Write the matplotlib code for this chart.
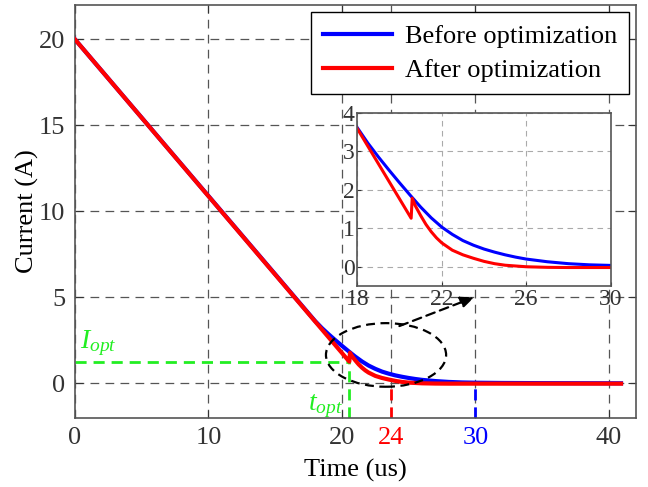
import matplotlib
matplotlib.use('Agg')
import matplotlib.pyplot as plt
from matplotlib.patches import Ellipse

plt.rcParams['font.family'] = ['Liberation Serif', 'DejaVu Serif']
plt.rcParams['mathtext.fontset'] = 'custom'
plt.rcParams['mathtext.rm'] = 'Liberation Serif'
plt.rcParams['mathtext.it'] = 'Liberation Serif:italic'

# Current before optimization
t_before = [0, 18, 18.5, 19, 19.5, 20, 20.5, 21, 21.5, 22, 22.5, 23, 23.5, 24,
            24.5, 25, 25.5, 26, 27, 28, 29, 30, 32, 35, 40.9]
i_before = [20, 3.61, 3.21, 2.85, 2.51, 2.18, 1.86, 1.55, 1.27, 1.03, 0.84, 0.68, 0.56, 0.46,
            0.38, 0.31, 0.25, 0.20, 0.13, 0.08, 0.05, 0.035, 0.02, 0.01, 0.0]

# Current after optimization
t_after = [0, 20.55, 20.6, 20.75, 21, 21.25, 21.5, 21.75, 22, 22.5, 23, 23.5, 24,
           24.5, 25, 25.5, 26, 27, 28, 30, 40.9]
i_after = [20, 1.26, 1.78, 1.58, 1.33, 1.10, 0.91, 0.75, 0.62, 0.43, 0.31, 0.22, 0.14,
           0.08, 0.04, 0.02, 0.0, -0.015, -0.02, -0.02, -0.02]

t_opt = 20.55
i_opt = 1.26
t_after_end = 23.65
t_before_end = 30

main_xticks = [0, 10, 20, 30, 40]
main_yticks = [0, 5, 10, 15, 20]
inset_xticks = [18, 22, 26, 30]
inset_yticks = [0, 1, 2, 3, 4]

fig = plt.figure(figsize=(6.48, 4.87), dpi=100)
ax = fig.add_axes([0.1157, 0.1423, 0.8653, 0.8474])

ax.plot(t_before, i_before, color='#0000FF', lw=3, label='Before optimization', zorder=3)
ax.plot(t_after, i_after, color='#FF0000', lw=3, label='After optimization', zorder=4)

# guide lines
green = '#22EE22'
dash = (0, (4, 2.5))
ax.plot([0, t_opt], [i_opt, i_opt], color=green, lw=2, ls=dash, zorder=2)
ax.plot([t_opt, t_opt], [-2, i_opt], color=green, lw=2, ls=dash, zorder=2)
ax.plot([t_after_end, t_after_end], [-2, 0.1], color='#FF0000', lw=2, ls=dash, zorder=2)
ax.plot([t_before_end, t_before_end], [-2, 0.0], color='#0000FF', lw=2, ls=dash, zorder=2)

ax.text(0.4, 1.45, r'$I_{opt}$', color=green, fontsize=20, ha='left', va='bottom')
ax.text(20.1, -1.3, r'$t_{opt}$', color=green, fontsize=20, ha='right', va='center')

# zoom marker
ell = Ellipse((23.3, 1.65), 9.0, 3.7, fill=False, edgecolor='black', lw=1.6,
              ls=dash, zorder=5)
ax.add_patch(ell)
ax.annotate('', xy=(29.9, 5.0), xytext=(24.3, 3.33),
            arrowprops=dict(arrowstyle='-|>,head_length=0.8,head_width=0.35', color='black',
                            lw=1.6, ls=dash, shrinkA=0, shrinkB=0), zorder=5)

ax.set_xlim(0, 42)
ax.set_ylim(-2, 22)
ax.set_xticks(main_xticks + [t_after_end])
ax.set_xticklabels(['0', '10', '20', '30', '40', '24'])
ax.set_yticks(main_yticks)
ax.tick_params(direction='in', top=True, right=True, labelsize=19, length=6,
               colors='#333333', pad=7)
extra = ax.xaxis.get_major_ticks()[-1]
extra.tick1line.set_visible(False)
extra.tick2line.set_visible(False)
extra.gridline.set_visible(False)
for lbl in ax.get_xticklabels():
    if lbl.get_text() == '24':
        lbl.set_color('#FF0000')
    elif lbl.get_text() == '30':
        lbl.set_color('#0000FF')
ax.grid(True, color='#555555', ls=(0, (7, 5)), lw=0.9)
for s in ax.spines.values():
    s.set_color('#555555')
    s.set_linewidth(1.2)
ax.set_xlabel('Time (us)', fontsize=19, labelpad=6.5)
ax.set_ylabel('Current (A)', fontsize=19, labelpad=0)

leg = ax.legend(loc='upper right', bbox_to_anchor=(0.988, 0.982), borderaxespad=0,
                fontsize=19, handlelength=2.6, handletextpad=0.5, fancybox=False,
                edgecolor='black', framealpha=1, borderpad=0.45, labelspacing=0.42)
leg.get_frame().set_linewidth(1.0)

# inset
axin = fig.add_axes([0.5514, 0.4127, 0.391, 0.3559])
axin.plot(t_before, i_before, color='#0000FF', lw=2.2)
axin.plot(t_after, i_after, color='#FF0000', lw=2.2)
axin.set_xlim(18, 30)
axin.set_ylim(-0.5, 4)
axin.set_xticks(inset_xticks)
axin.set_yticks(inset_yticks)
axin.tick_params(direction='in', labelsize=17, length=3, colors='#333333', pad=2)
axin.grid(True, color='#AAAAAA', ls=(0, (5, 4)), lw=0.8)
for s in axin.spines.values():
    s.set_color('#555555')
    s.set_linewidth(1.2)

fig.savefig('out.png', dpi=100)
